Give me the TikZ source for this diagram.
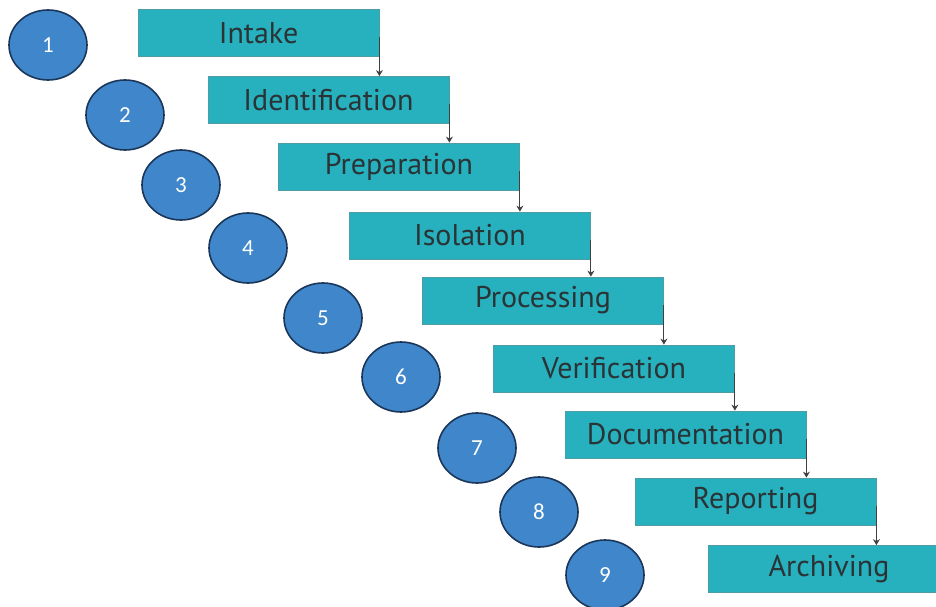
\documentclass[tikz,border=0pt]{standalone}
\usepackage{fontspec}
\setmainfont{PT Sans}
\newfontfamily\numfont{Carlito}
\usetikzlibrary{arrows.meta,shapes.geometric}
\definecolor{boxfill}{HTML}{27B0BD}
\definecolor{boxedge}{HTML}{4E9CA6}
\definecolor{circfill}{HTML}{3F86CA}
\definecolor{circedge}{HTML}{1B3658}
\definecolor{txt}{HTML}{2A3436}
\tikzset{
  stepbox/.style={draw=boxedge, line width=0.8pt, fill=boxfill, minimum width=241pt, minimum height=47pt, inner sep=0pt, font=\fontsize{30}{34}\selectfont, text=txt},
  numcirc/.style={ellipse, draw=circedge, line width=1.6pt, fill=circfill, minimum width=78pt, minimum height=70pt, inner sep=0pt, font=\fontsize{23}{26}\numfont\selectfont, text=white},
  link/.style={draw=black!75, line width=1pt, -{Stealth[length=6pt,width=7pt]}}
}
\begin{document}
\begin{tikzpicture}[x=1pt,y=-1pt]
\useasboundingbox (0,0) rectangle (936,607);
% boxes
\node[stepbox] (b1) at (258.5,33) {Intake};
\node[stepbox] (b2) at (328.5,100) {Identification};
\node[stepbox] (b3) at (399,166.5) {Preparation};
\node[stepbox] (b4) at (470,235.5) {Isolation};
\node[stepbox] (b5) at (543,300.5) {Processing};
\node[stepbox] (b6) at (614,368.5) {Verification};
\node[stepbox] (b7) at (685.5,434.5) {Documentation};
\node[stepbox] (b8) at (755.5,501.5) {Reporting};
\node[stepbox] (b9) at (829,569) {Archiving};
% circles
\node[numcirc] (c1) at (48,45) {1};
\node[numcirc] (c2) at (125,115) {2};
\node[numcirc] (c3) at (181,185) {3};
\node[numcirc] (c4) at (248,248) {4};
\node[numcirc] (c5) at (323,318) {5};
\node[numcirc] (c6) at (401,377) {6};
\node[numcirc] (c7) at (477,448) {7};
\node[numcirc] (c8) at (539,512) {8};
\node[numcirc] (c9) at (605,575) {9};
% connectors
\foreach \a/\b in {1/2,2/3,3/4,4/5,5/6,6/7,7/8,8/9}{
  \draw[link] ([yshift=-4pt]b\a.east) -- (b\a.east |- b\b.north);
}
\end{tikzpicture}
\end{document}
